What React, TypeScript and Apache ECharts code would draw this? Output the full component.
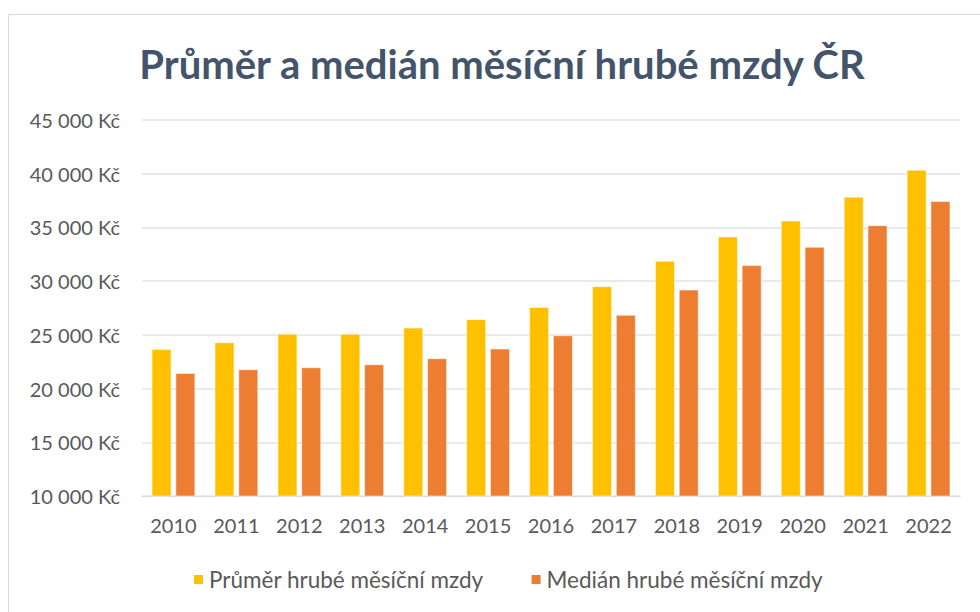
import React, { useEffect, useRef } from "react";
import * as echarts from "echarts";

const years = ["2010", "2011", "2012", "2013", "2014", "2015", "2016", "2017", "2018", "2019", "2020", "2021", "2022"];
const averageWage = [23670, 24290, 25090, 25090, 25650, 26440, 27580, 29510, 31870, 34130, 35620, 37830, 40350];
const medianWage = [21430, 21780, 21960, 22240, 22800, 23700, 24940, 26840, 29190, 31470, 33170, 35190, 37430];
const seriesNames = ["Průměr hrubé měsíční mzdy", "Medián hrubé měsíční mzdy"];
const titleText = "Průměr a medián měsíční hrubé mzdy ČR";

const FONT = "Lato, 'Open Sans', sans-serif";

function fmt(v: number): string {
  const s = String(Math.round(v));
  return s.replace(/\B(?=(\d{3})+(?!\d))/g, " ") + " Kč";
}

export default function App() {
  const ref = useRef<HTMLDivElement>(null);
  useEffect(() => {
    if (!ref.current) return;
    const chart = echarts.init(ref.current, undefined, { renderer: "svg" });
    chart.setOption({
      animation: false,
      backgroundColor: "#ffffff",
      graphic: [
        {
          type: "rect",
          shape: { x: 8.5, y: 14.5, width: 990, height: 620 },
          style: { fill: "none", stroke: "#d9d9d9", lineWidth: 1 },
          silent: true,
        },
      ],
      title: {
        text: titleText,
        left: 497,
        textAlign: "center",
        top: 39,
        textStyle: { fontFamily: FONT, fontSize: 40, fontWeight: "bold", color: "#44546A" },
      },
      grid: { left: 142, right: 20, top: 120, bottom: 116, containLabel: false },
      legend: {
        top: 563,
        left: 187,
        itemWidth: 11,
        itemHeight: 11,
        itemGap: 46,
        icon: "rect",
        textStyle: { fontFamily: FONT, fontSize: 22.5, color: "#595959" },
        data: seriesNames,
      },
      xAxis: {
        type: "category",
        data: years,
        axisLine: { show: true, lineStyle: { color: "#d9d9d9" } },
        axisTick: { show: false },
        axisLabel: { fontFamily: FONT, fontSize: 20, color: "#595959", margin: 19 },
      },
      yAxis: {
        type: "value",
        min: 10000,
        max: 45000,
        interval: 5000,
        axisLine: { show: false },
        axisTick: { show: false },
        splitLine: { lineStyle: { color: "#dfe3e8", width: 1.5 } },
        axisLabel: { fontFamily: FONT, fontSize: 20, color: "#595959", margin: 22, formatter: fmt },
      },
      series: [
        {
          name: seriesNames[0],
          type: "bar",
          data: averageWage,
          barWidth: "31%",
          barGap: "22%",
          itemStyle: { color: "#FFC000", borderColor: "#ffffff", borderWidth: 0.5 },
        },
        {
          name: seriesNames[1],
          type: "bar",
          data: medianWage,
          barWidth: "31%",
          barGap: "22%",
          itemStyle: { color: "#ED7D31", borderColor: "#ffffff", borderWidth: 0.5 },
        },
      ],
    });
    return () => chart.dispose();
  }, []);
  return (
    <div
      ref={ref}
      style={{ position: "fixed", left: 0, top: 0, width: 980, height: 612 }}
    />
  );
}
